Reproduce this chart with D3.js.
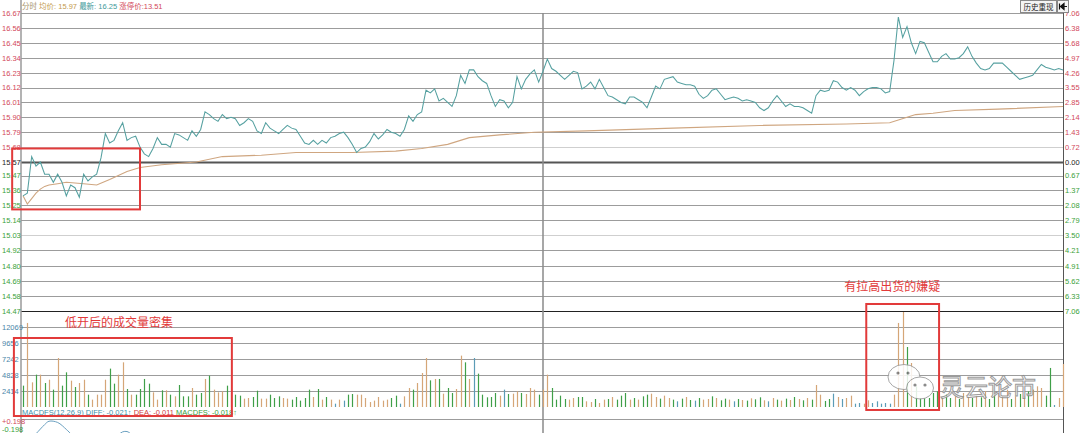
<!DOCTYPE html>
<html>
<head>
<meta charset="utf-8">
<script src="https://cdn.jsdelivr.net/npm/d3@7"></script>
<style>
body{margin:0;background:#fff;}
svg{display:block;font-family:"Liberation Sans",Arial,"Noto Sans CJK SC",sans-serif;}
</style>
</head>
<body>
<svg id="chart" width="1080" height="433"></svg>
<script>
// tick labels
var priceTicks = [16.67,16.56,16.45,16.34,16.23,16.12,16.01,15.90,15.79,15.68,15.57,
    15.47,15.36,15.25,15.14,15.03,14.92,14.80,14.69,14.58,14.47];
var pctTicks = ["7.06","6.38","5.68","4.97","4.26","3.55","2.85","2.14","1.43","0.72","0.00",
    "0.67","1.37","2.08","2.79","3.50","4.21","4.91","5.62","6.33","7.06"];
var volTicks = [12069, 9656, 7242, 4828, 2414];
var preClose = 15.57;

// minute prices 9:30 -> 15:00 (241 points)
var price = [
15.32,15.34,15.61,15.54,15.57,15.48,15.48,15.42,15.48,15.42,
15.32,15.40,15.38,15.31,15.48,15.43,15.46,15.48,15.60,15.78,
15.71,15.73,15.80,15.86,15.73,15.75,15.76,15.68,15.63,15.61,
15.67,15.75,15.70,15.70,15.68,15.78,15.77,15.75,15.73,15.80,
15.76,15.81,15.94,15.92,15.89,15.87,15.92,15.89,15.90,15.89,
15.84,15.86,15.89,15.87,15.80,15.78,15.86,15.82,15.80,15.78,
15.81,15.84,15.82,15.81,15.76,15.71,15.70,15.73,15.70,15.73,
15.71,15.75,15.76,15.78,15.79,15.75,15.70,15.64,15.67,15.68,
15.72,15.78,15.74,15.77,15.81,15.79,15.78,15.76,15.81,15.91,
15.87,15.92,15.94,16.10,16.08,16.11,16.02,16.04,16.01,15.98,
16.06,16.21,16.15,16.25,16.25,16.20,16.17,16.15,16.06,15.98,
16.03,16.02,15.97,16.01,16.20,16.11,16.18,16.22,16.25,16.16,
16.24,
16.33,16.26,16.24,16.21,16.18,16.21,16.24,16.23,16.11,16.13,
16.16,16.11,16.18,16.12,16.06,16.05,16.03,16.01,16.00,16.05,
16.05,16.03,16.01,15.97,16.05,16.13,16.11,16.18,16.19,16.20,
16.16,16.15,16.14,16.14,16.13,16.07,16.04,16.06,16.10,16.11,
16.07,16.03,16.04,16.05,16.04,16.02,16.03,16.02,16.01,15.97,
15.95,15.97,16.02,16.06,16.02,15.98,16.00,15.98,15.98,15.97,
15.95,15.93,16.06,16.10,16.09,16.10,16.17,16.16,16.12,16.10,
16.12,16.10,16.06,16.09,16.11,16.12,16.12,16.11,16.08,16.09,
16.32,16.64,16.49,16.57,16.45,16.37,16.46,16.45,16.38,16.31,
16.31,16.35,16.37,16.33,16.33,16.34,16.37,16.42,16.35,16.30,
16.26,16.25,16.26,16.30,16.30,16.30,16.27,16.24,16.21,16.18,
16.19,16.20,16.21,16.25,16.29,16.27,16.26,16.25,16.26,16.25
];

// average price line, read at these minutes
var avgMinute = [0,1,2,3,4,5,6,8,10,14,17,20,24,27,32,40,46,55,63,76,86,92,98,103,110,118,
    130,150,170,190,200,202,204,206,210,215,225,240];
var avgPrice = [15.32,15.26,15.30,15.34,15.37,15.39,15.40,15.41,15.42,15.41,15.40,15.44,15.50,
    15.53,15.55,15.57,15.61,15.62,15.64,15.64,15.65,15.67,15.70,15.75,15.77,15.79,
    15.80,15.82,15.84,15.85,15.86,15.88,15.90,15.92,15.93,15.95,15.96,15.98];

// minute volume and direction (u up, d down, f flat)
var volume = [
3220,12680,3720,4880,4880,3620,4120,2620,7390,3220,
5230,3970,3020,3620,4120,1860,1110,1860,1860,4120,
5790,3520,4880,6740,2720,1860,1860,2720,4230,3520,
2210,1110,2520,2520,1860,1610,3320,1610,1610,2870,
1860,2110,4230,4730,2620,2210,2360,3220,2110,1860,
1710,1260,1360,1510,2460,1260,1260,1860,1360,1610,
1360,1260,1110,1510,960,1360,2620,1510,2720,1110,
1510,1110,500,1110,960,1860,1960,1860,1860,1360,
750,960,1510,960,1110,1360,1710,500,1610,2870,
2620,3620,5130,7390,4020,4230,4230,2010,2870,2110,
2720,7750,6740,4230,7390,5030,1860,1460,1510,2110,
1710,2620,1960,2010,2360,2110,1960,2870,2620,1860,
2620,4880,2870,1110,1710,1210,1110,1360,1510,1510,
860,750,1210,600,1110,1210,1510,1110,1710,2110,
1110,1360,1110,1610,1860,2010,1510,1260,1710,1360,
1110,860,1260,1510,1060,960,1360,1110,1210,1610,
1360,1010,1260,1110,860,1210,1060,960,1310,1160,
1460,1010,860,1360,1110,960,1260,1060,1510,1210,
1010,1360,1110,3320,1860,910,1210,2010,1510,1210,
1360,1710,500,600,500,1010,600,860,500,600,
500,1860,12680,14330,9050,6640,3100,1360,1360,1360,
2110,2360,1460,1860,1360,1610,1210,2110,1860,1360,
1710,1460,2360,1210,1860,2110,1610,2620,1210,1610,
1960,1710,2360,2620,3120,2870,1710,5890,300,1360,
6490
];
var volDir = [
"d","u","u","d","u","d","u","d","u","d",
"d","u","d","u","u","d","u","u","u","u",
"d","d","u","u","d","u","d","d","d","d",
"u","u","d","u","d","u","d","d","d","u",
"d","d","u","d","u","u","u","d","u","d",
"d","u","u","d","d","u","u","d","d","d",
"u","u","d","d","d","d","d","u","d","u",
"d","u","f","u","f","d","d","u","u","u",
"u","u","u","u","u","d","d","f","u","u",
"d","u","u","u","d","u","d","u","d","d",
"u","u","d","u","f","d","d","d","d","d",
"u","f","d","u","u","d","u","u","u","d",
"u","u","d","d","d","d","u","u","d","d",
"u","u","d","u","u","d","u","d","d","d",
"u","d","u","d","d","u","u","d","u","u",
"d","f","d","u","d","f","d","u","u","d",
"u","d","d","u","f","d","u","d","u","d",
"d","u","f","u","d","u","d","u","d","u",
"d","u","d","u","u","d","d","f","u","f",
"u","u","f","f","u","u","f","f","f","f",
"f","u","u","u","d","u","d","d","d","d",
"d","d","u","d","d","u","d","u","u","d",
"u","d","u","d","d","u","u","u","d","u",
"d","u","d","u","u","u","d","d","f","u",
"u"
];

// MACD diff line near the open (only a small part shows)
var macdMinute = [2,3,5,6,8,10,11, 21,22,23,24,25,26];
var macdDiff = [-0.34,-0.22,0.08,0.19,0.15,-0.08,-0.22, -0.40,-0.26,-0.16,-0.15,-0.24,-0.40];

var svg = d3.select("#chart");
var left = 21, right = 1063;

var x = d3.scaleLinear().domain([0, 240]).range([23, 1063]);
var y = d3.scaleLinear().domain([14.47, 16.67]).range([311, 13]);
var yv = d3.scaleLinear().domain([0, 12069]).range([407, 327]);
var ym = d3.scaleLinear().domain([-0.198, 0.198]).range([433, 421]);

var red = "#d2475a", green = "#3a9f3a";
function tickColor(v) {
    if (Math.abs(v - preClose) < 0.001) return "#222";
    return v > preClose ? red : green;
}

// price grid
svg.append("g").selectAll("line")
    .data(priceTicks)
    .enter()
    .append("line")
    .attr("x1", left).attr("x2", right)
    .attr("y1", function(d) { return Math.round(y(d)) + 0.5; })
    .attr("y2", function(d) { return Math.round(y(d)) + 0.5; })
    .attr("stroke", function(d) {
        if (d === preClose) return "#555";
        if (d === 15.68 || d === 15.03) return "#cfcfcf";
        if (d === 14.47) return "#222";
        return "#9c9c9c";
    })
    .attr("stroke-width", function(d) { return d === preClose ? 2 : 1.2; });

// volume grid
svg.append("g").selectAll("line")
    .data(volTicks)
    .enter()
    .append("line")
    .attr("x1", left).attr("x2", right)
    .attr("y1", function(d) { return Math.round(yv(d)) + 0.5; })
    .attr("y2", function(d) { return Math.round(yv(d)) + 0.5; })
    .attr("stroke", "#9c9c9c")
    .attr("stroke-width", 1.2);

svg.append("line")
    .attr("x1", left).attr("x2", right)
    .attr("y1", 419.5).attr("y2", 419.5)
    .attr("stroke", "#9c9c9c");

// frame lines
svg.append("line").attr("x1", left).attr("x2", left).attr("y1", 0).attr("y2", 433)
    .attr("stroke", "#9a9a9a").attr("stroke-width", 1.5);
svg.append("line").attr("x1", right + 0.5).attr("x2", right + 0.5).attr("y1", 0).attr("y2", 433)
    .attr("stroke", "#555");
svg.append("line").attr("x1", x(120)).attr("x2", x(120)).attr("y1", 13).attr("y2", 433)
    .attr("stroke", "#8a8a8a").attr("stroke-width", 1.5);

// left price axis
var yAxisL = svg.append("g")
    .attr("transform", "translate(" + left + ",0)")
    .call(d3.axisLeft(y).tickValues(priceTicks).tickSize(0).tickFormat(d3.format(".2f")));
yAxisL.select(".domain").remove();
yAxisL.selectAll("text")
    .attr("x", -19).attr("text-anchor", "start")
    .attr("font-size", 7.5)
    .attr("fill", function(d) { return tickColor(d); });

// right percent axis
var yAxisR = svg.append("g")
    .attr("transform", "translate(" + right + ",0)")
    .call(d3.axisRight(y).tickValues(priceTicks).tickSize(0)
        .tickFormat(function(d, i) { return pctTicks[i]; }));
yAxisR.select(".domain").remove();
yAxisR.selectAll("text")
    .attr("x", 2)
    .attr("font-size", 7.5)
    .attr("fill", function(d) { return tickColor(d); });

// volume axis
var vAxis = svg.append("g")
    .attr("transform", "translate(" + left + ",0)")
    .call(d3.axisLeft(yv).tickValues(volTicks).tickSize(0).tickFormat(d3.format("d")));
vAxis.select(".domain").remove();
vAxis.selectAll("text")
    .attr("x", -19).attr("text-anchor", "start")
    .attr("font-size", 7.5)
    .attr("fill", "#4a86a8");

// macd labels
svg.append("text").attr("x", 2).attr("y", ym(0.198) + 2.5)
    .attr("font-size", 7.5).attr("fill", red).text("+0.198");
svg.append("text").attr("x", 2).attr("y", ym(-0.198) - 1)
    .attr("font-size", 7.5).attr("fill", green).text("-0.198");

// volume bars
var volColor = { u: "#d5a677", d: "#3f9f48", f: "#5b9cb6" };
svg.append("g").selectAll("line")
    .data(volume)
    .enter()
    .append("line")
    .attr("x1", function(d, i) { return Math.round(x(i)) + 0.5; })
    .attr("x2", function(d, i) { return Math.round(x(i)) + 0.5; })
    .attr("y1", yv(0))
    .attr("y2", function(d) { return Math.max(312, yv(d)); })
    .attr("stroke", function(d, i) { return volColor[volDir[i]]; })
    .attr("stroke-width", 1.2);

// average and price lines
var avgLine = d3.line()
    .x(function(d, i) { return x(avgMinute[i]); })
    .y(function(d) { return y(d); });
svg.append("path")
    .datum(avgPrice)
    .attr("d", avgLine)
    .attr("fill", "none")
    .attr("stroke", "#cfa680")
    .attr("stroke-width", 1.1);

var priceLine = d3.line()
    .x(function(d, i) { return x(i); })
    .y(function(d) { return y(d); });
svg.append("path")
    .datum(price)
    .attr("d", priceLine)
    .attr("fill", "none")
    .attr("stroke", "#55a0a0")
    .attr("stroke-width", 1.05);

// macd fragment
var macdLine = d3.line()
    .curve(d3.curveCatmullRom)
    .x(function(d, i) { return x(macdMinute[i]); })
    .y(function(d) { return ym(d); });
svg.append("path")
    .datum(macdDiff.slice(0, 7))
    .attr("d", macdLine)
    .attr("fill", "none").attr("stroke", "#6aa0c0").attr("stroke-width", 1);
svg.append("path")
    .datum(macdDiff.slice(7))
    .attr("d", d3.line().curve(d3.curveCatmullRom)
        .x(function(d, i) { return x(macdMinute[i + 7]); })
        .y(function(d) { return ym(d); }))
    .attr("fill", "none").attr("stroke", "#6aa0c0").attr("stroke-width", 1);

// header
var head = svg.append("text").attr("x", 22).attr("y", 8.5).attr("font-size", 7.5);
head.append("tspan").attr("fill", "#a8956e").text("分时 ");
head.append("tspan").attr("fill", "#c49a4c").text("均价: 15.97 ");
head.append("tspan").attr("fill", "#3f9a9a").text("最新: 16.25 ");
head.append("tspan").attr("fill", red).text("涨停价:13.51");

// macd legend
var mh = svg.append("text").attr("x", 22).attr("y", 415).attr("font-size", 7.5);
mh.append("tspan").attr("fill", "#3f8fa8").text("MACDFS(12,26,9) DIFF: -0.021↑ ");
mh.append("tspan").attr("fill", "#d23c3c").text("DEA: -0.011  ");
mh.append("tspan").attr("fill", green).text("MACDFS: -0.018↑");

// history button
svg.append("rect").attr("x", 1020.5).attr("y", 0.5).attr("width", 36).attr("height", 12)
    .attr("fill", "#f4f4f4").attr("stroke", "#888");
svg.append("text").attr("x", 1038.5).attr("y", 9.5).attr("text-anchor", "middle")
    .attr("font-size", 7.5).attr("fill", "#222").text("历史重现");
svg.append("rect").attr("x", 1057.5).attr("y", 0.5).attr("width", 11).attr("height", 12)
    .attr("fill", "#f4f4f4").attr("stroke", "#888");
svg.append("path").attr("d", "M1059.5,3.5V9.5M1060.5,6.5L1064,3.5V9.5ZM1063,6.5H1067")
    .attr("stroke", "#111").attr("stroke-width", 1.2).attr("fill", "#111");

// annotations
var annoColor = "#e23a3a";
var boxes = [
    { x0: x(-2.5), x1: x(27), y0: y(15.67), y1: y(15.22) },
    { x0: x(-2.1), x1: x(48.2), y0: yv(10410), y1: yv(-1360) },
    { x0: x(194.6), x1: x(211.4), y0: yv(15540), y1: yv(-450) }
];
svg.append("g").selectAll("rect")
    .data(boxes)
    .enter()
    .append("rect")
    .attr("x", function(d) { return d.x0; })
    .attr("y", function(d) { return d.y0; })
    .attr("width", function(d) { return d.x1 - d.x0; })
    .attr("height", function(d) { return d.y1 - d.y0; })
    .attr("fill", "none")
    .attr("stroke", annoColor)
    .attr("stroke-width", 2);

svg.append("text").attr("x", x(9.7)).attr("y", 326.5)
    .attr("font-size", 12).attr("fill", annoColor)
    .attr("font-family", "Noto Sans CJK SC").text("低开后的成交量密集");
svg.append("text").attr("x", x(189.5)).attr("y", 290.5)
    .attr("font-size", 12).attr("fill", annoColor)
    .attr("font-family", "Noto Sans CJK SC").text("有拉高出货的嫌疑");

// watermark
var wm = svg.append("g").attr("opacity", 0.85);
wm.append("ellipse").attr("cx", 904).attr("cy", 377).attr("rx", 16).attr("ry", 12.5)
    .attr("fill", "#fff").attr("stroke", "#999");
wm.append("ellipse").attr("cx", 920).attr("cy", 388).attr("rx", 13.5).attr("ry", 11)
    .attr("fill", "#fff").attr("stroke", "#999");
wm.selectAll("circle.eye")
    .data([[898, 373], [908, 373], [915, 385], [925, 385]])
    .enter()
    .append("circle")
    .attr("cx", function(d) { return d[0]; })
    .attr("cy", function(d) { return d[1]; })
    .attr("r", 1.6)
    .attr("fill", "#777");
wm.append("text").attr("x", 940).attr("y", 396)
    .attr("font-size", 24).attr("font-family", "Noto Sans CJK SC")
    .attr("fill", "#fff").attr("stroke", "#8a8a8a").attr("stroke-width", 1)
    .text("灵云论市");
</script>
</body>
</html>
